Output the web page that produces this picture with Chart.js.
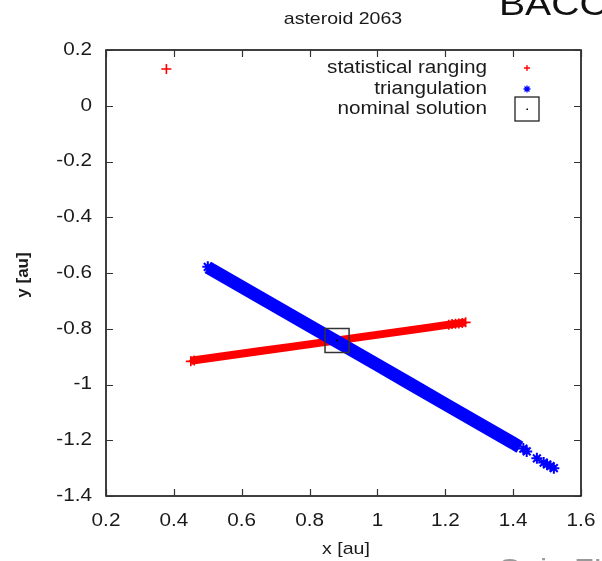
<!DOCTYPE html>
<html>
<head>
<meta charset="utf-8">
<script src="https://cdn.jsdelivr.net/npm/chart.js@4/dist/chart.umd.min.js"></script>
<style>
  html, body { margin: 0; padding: 0; background: #fff; }
  #wrap { width: 602px; height: 561px; position: relative; }
</style>
</head>
<body>
<div id="wrap"><canvas id="chart" width="602" height="561"></canvas></div>
<script>
// statistical ranging solutions (x, y in au)
const rangingX = [0.45, 0.55, 0.65, 0.75, 0.85, 0.95, 1.05, 1.15, 1.20, 1.26];
const rangingY = [-0.915, -0.898, -0.881, -0.864, -0.847, -0.830, -0.813, -0.796, -0.787, -0.777];
// sparse crosses at the far end plus the isolated solution near the top
const rangingExtraX = [0.378, 0.45, 0.46, 1.21, 1.22, 1.23, 1.24, 1.25, 1.26];
const rangingExtraY = [0.132, -0.917, -0.914, -0.786, -0.783, -0.782, -0.781, -0.779, -0.777];

// triangulation solutions
const triX = [0.50, 0.60, 0.70, 0.80, 0.90, 1.00, 1.10, 1.20, 1.30, 1.40, 1.42];
const triY = [-0.58, -0.65, -0.72, -0.79, -0.86, -0.93, -1.00, -1.07, -1.14, -1.21, -1.225];
const triExtraX = [0.50, 0.51, 1.43, 1.44, 1.47, 1.49, 1.50, 1.51, 1.52];
const triExtraY = [-0.578, -0.585, -1.230, -1.240, -1.265, -1.280, -1.287, -1.293, -1.300];

// nominal solution
const nominalX = [0.881];
const nominalY = [-0.842];

const xTicks = [0.2, 0.4, 0.6, 0.8, 1, 1.2, 1.4, 1.6];
const yTicks = [0.2, 0, -0.2, -0.4, -0.6, -0.8, -1, -1.2, -1.4];

const legendLabels = ["statistical ranging", "triangulation", "nominal solution"];

function pts(xs, ys) {
    return xs.map((x, i) => ({ x: x, y: ys[i] }));
}

const FONT = "'Liberation Sans', Arial, sans-serif";
const STRETCH = 1.15; // text in this figure is a bit wider than plain Arial

// draw text widened horizontally around its anchor
function wideText(ctx, text, x, y) {
    ctx.save();
    ctx.translate(x, y);
    ctx.scale(STRETCH, 1);
    ctx.fillText(text, 0, 0);
    ctx.restore();
}

// gnuplot style frame, inward ticks, legend and surrounding slide text
const framePlugin = {
    id: "frame",
    afterDraw(chart) {
        const ctx = chart.ctx;
        const a = chart.chartArea;
        const xs = chart.scales.x, ys = chart.scales.y;
        ctx.save();
        ctx.strokeStyle = "#000";
        ctx.lineWidth = 1.5;
        ctx.strokeRect(a.left, a.top, a.right - a.left, a.bottom - a.top);
        ctx.lineWidth = 1.2;
        ctx.strokeStyle = "#333";
        ctx.beginPath();
        xTicks.forEach(v => {
            const px = Math.round(xs.getPixelForValue(v)) + 0.5;
            ctx.moveTo(px, a.bottom); ctx.lineTo(px, a.bottom - 7);
            ctx.moveTo(px, a.top); ctx.lineTo(px, a.top + 7);
        });
        yTicks.forEach(v => {
            const py = Math.round(ys.getPixelForValue(v)) + 0.5;
            ctx.moveTo(a.left, py); ctx.lineTo(a.left + 7, py);
            ctx.moveTo(a.right, py); ctx.lineTo(a.right - 7, py);
        });
        ctx.stroke();

        // tick labels
        ctx.fillStyle = "#1a1a1a";
        ctx.font = "18px " + FONT;
        ctx.textAlign = "center";
        ctx.textBaseline = "middle";
        xTicks.forEach(v => {
            wideText(ctx, String(v), xs.getPixelForValue(v), a.bottom + 25);
        });
        ctx.textAlign = "right";
        yTicks.forEach(v => {
            wideText(ctx, String(v), a.left - 14, ys.getPixelForValue(v));
        });

        // axis titles
        ctx.textAlign = "center";
        ctx.font = "17px " + FONT;
        wideText(ctx, "x [au]", 346, 549);
        ctx.save();
        ctx.translate(23, 275);
        ctx.rotate(-Math.PI / 2);
        ctx.font = "bold 17px " + FONT;
        ctx.fillText("y [au]", 0, 0);
        ctx.restore();

        // title
        ctx.font = "17px " + FONT;
        wideText(ctx, "asteroid 2063", 343, 19);

        // legend
        ctx.font = "18px " + FONT;
        ctx.textAlign = "right";
        const lx = 487, sx = 527;
        const rows = [68, 89, 109];
        legendLabels.forEach((t, i) => wideText(ctx, t, lx, rows[i]));
        ctx.strokeStyle = "#f00";
        ctx.lineWidth = 1.3;
        ctx.beginPath();
        ctx.moveTo(sx - 3, rows[0]); ctx.lineTo(sx + 3, rows[0]);
        ctx.moveTo(sx, rows[0] - 3); ctx.lineTo(sx, rows[0] + 3);
        ctx.stroke();
        ctx.strokeStyle = "#00f";
        ctx.beginPath();
        for (let k = 0; k < 4; k++) {
            const ang = k * Math.PI / 4;
            ctx.moveTo(sx - 3.5 * Math.cos(ang), rows[1] - 3.5 * Math.sin(ang));
            ctx.lineTo(sx + 3.5 * Math.cos(ang), rows[1] + 3.5 * Math.sin(ang));
        }
        ctx.stroke();
        ctx.strokeStyle = "#222";
        ctx.lineWidth = 1.3;
        ctx.strokeRect(sx - 12, rows[2] - 12, 24, 24);
        ctx.fillStyle = "#000";
        ctx.fillRect(sx - 0.5, rows[2] - 0.5, 1.5, 1.5);

        // slide text around the figure
        ctx.textAlign = "left";
        ctx.textBaseline = "alphabetic";
        ctx.fillStyle = "#111";
        ctx.font = "34px " + FONT;
        wideText(ctx, "BACC", 499, 15);
        ctx.fillStyle = "#999";
        ctx.font = "28px " + FONT;
        wideText(ctx, "Gaia FUN-SSO", 497, 578);
        ctx.restore();
    }
};

new Chart(document.getElementById("chart"), {
    type: "scatter",
    data: {
        datasets: [
            {
                label: "ranging band",
                type: "line",
                data: pts(rangingX, rangingY),
                borderColor: "#ff0000",
                borderWidth: 8,
                pointRadius: 0,
                tension: 0,
                order: 4
            },
            {
                label: "statistical ranging",
                data: pts(rangingExtraX, rangingExtraY),
                pointStyle: "cross",
                pointRadius: 5,
                borderColor: "#ff0000",
                borderWidth: 1.6,
                order: 4
            },
            {
                label: "triangulation band",
                type: "line",
                data: pts(triX, triY),
                borderColor: "#0000ff",
                borderWidth: 13,
                borderCapStyle: "butt",
                pointRadius: 0,
                tension: 0,
                order: 2
            },
            {
                label: "triangulation",
                data: pts(triExtraX, triExtraY),
                pointStyle: "star",
                pointRadius: 5.5,
                borderColor: "#0000ff",
                backgroundColor: "#0000ff",
                borderWidth: 2,
                order: 2
            },
            {
                label: "nominal solution",
                data: pts(nominalX, nominalY),
                pointStyle: "rect",
                pointRadius: 17,
                backgroundColor: "rgba(0,0,0,0)",
                borderColor: "#333",
                borderWidth: 1.5,
                order: 1
            },
            {
                label: "nominal dot",
                data: pts(nominalX, nominalY),
                pointStyle: "circle",
                pointRadius: 1,
                backgroundColor: "#000",
                borderWidth: 0,
                order: 0
            }
        ]
    },
    options: {
        responsive: false,
        animation: false,
        devicePixelRatio: 1,
        layout: { padding: { top: 50, right: 21, left: 0, bottom: 0 } },
        plugins: {
            legend: { display: false },
            tooltip: { enabled: false },
            title: { display: false }
        },
        scales: {
            x: {
                type: "linear",
                min: 0.2,
                max: 1.6,
                grid: { display: false, drawTicks: false },
                border: { display: false },
                ticks: { display: false },
                afterFit(scale) { scale.height = 65; }
            },
            y: {
                type: "linear",
                min: -1.4,
                max: 0.2,
                grid: { display: false, drawTicks: false },
                border: { display: false },
                ticks: { display: false },
                afterFit(scale) { scale.width = 106; }
            }
        }
    },
    plugins: [framePlugin]
});
</script>
</body>
</html>
